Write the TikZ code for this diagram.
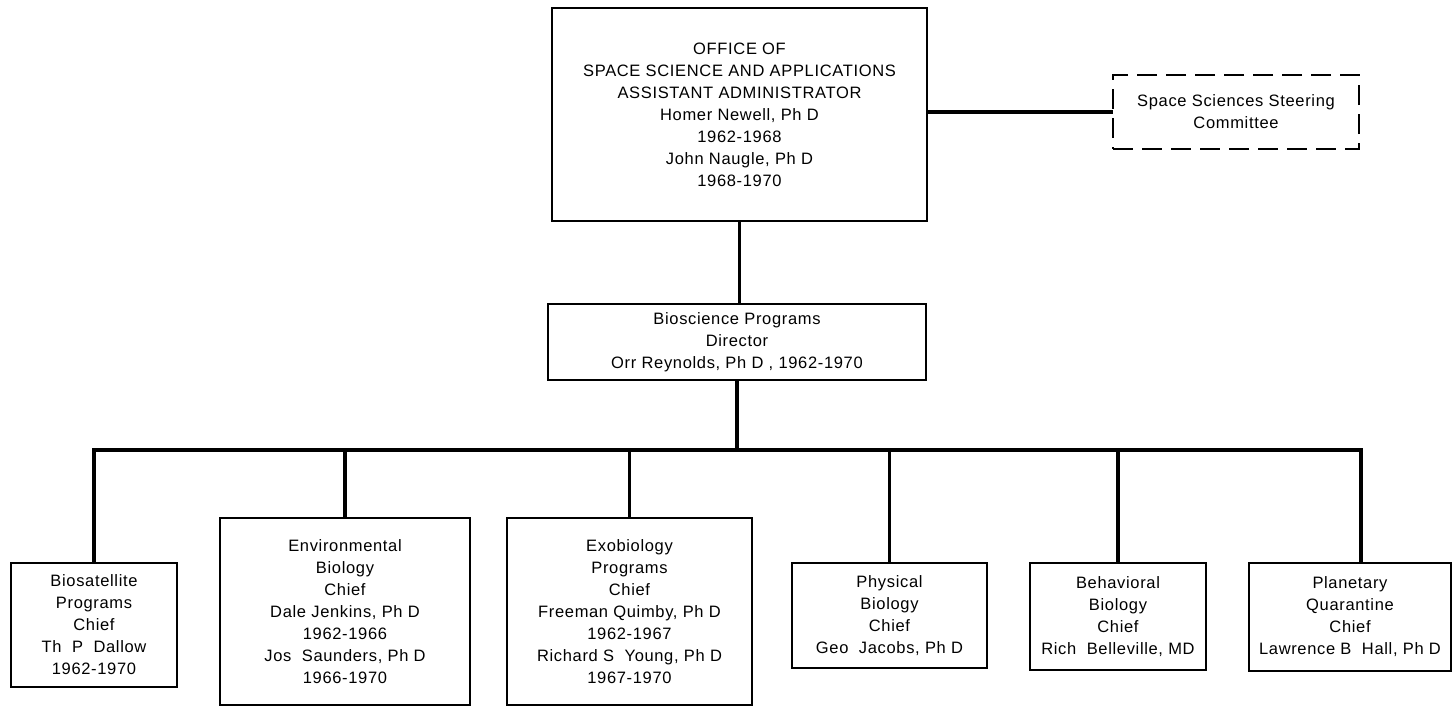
\documentclass[tikz,border=0pt]{standalone}
\usepackage{fontspec}
\setmainfont{Liberation Sans}[LetterSpace=4.0]
\usetikzlibrary{
    positioning,
    calc
}

\begin{document}
\begin{tikzpicture}[x=1pt, y=-1pt,
        unit/.style={draw, line width=2.4pt, rectangle, inner sep=0pt, align=center,
            font=\fontsize{16.5}{22}\selectfont},
        link/.style={line width=3.2pt, line cap=rect}]
        \useasboundingbox (0,0) rectangle (1453,707);
        % Office and committee
        \node[unit, minimum width=375pt, minimum height=213pt] (office) at (739.5,114.5) {
            OFFICE OF\\
            SPACE SCIENCE AND APPLICATIONS\\
            ASSISTANT ADMINISTRATOR\\
            Homer Newell, Ph D\\
            1962-1968\\
            John Naugle, Ph D\\
            1968-1970
        };
        \node[unit, dashed, dash pattern=on 20pt off 9pt, minimum width=246pt, minimum height=74pt] (steering) at (1236,112) {
            Space Sciences Steering\\
            Committee
        };
        \node[unit, minimum width=378pt, minimum height=76pt] (bio) at (737,342) {
            Bioscience Programs\\
            Director\\
            Orr Reynolds, Ph D , 1962-1970
        };
        
        % Program chiefs
        \node[unit, minimum width=166pt, minimum height=124pt] (biosat) at (94,625) {
            Biosatellite\\ Programs\\ Chief\\ Th\ \ P\ \ Dallow\\ 1962-1970
        };
        \node[unit, minimum width=250pt, minimum height=187pt] (enviro) at (345,611.5) {
            Environmental\\ Biology\\ Chief\\ Dale Jenkins, Ph D\\ 1962-1966\\
            Jos\ \ Saunders, Ph D\\ 1966-1970
        };
        \node[unit, minimum width=245pt, minimum height=187pt] (exo) at (629.5,611.5) {
            Exobiology\\ Programs\\ Chief\\ Freeman Quimby, Ph D\\ 1962-1967\\
            Richard S\ \ Young, Ph D\\ 1967-1970
        };
        \node[unit, minimum width=195pt, minimum height=105pt] (phys) at (889.5,615.5) {
            Physical\\ Biology\\ Chief\\ Geo\ \ Jacobs, Ph D
        };
        \node[unit, minimum width=176pt, minimum height=107pt] (behav) at (1118,616.5) {
            Behavioral\\ Biology\\ Chief\\ Rich\ \ Belleville, MD
        };
        \node[unit, minimum width=202pt, minimum height=108pt] (plan) at (1350,617) {
            Planetary\\ Quarantine\\ Chief\\ Lawrence B\ \ Hall, Ph D
        };
        
        % Connectors
        \coordinate (bus) at (741,450);
        \coordinate (plandrop) at ($(plan.north)+(11,0)$);
        \draw[link] (steering.west -| office.east) -- (steering.west);
        \draw[link] (office.south) -- (office.south |- bio.north);
        \draw[link] (bio.south) -- (bio.south |- bus);
        \draw[link] (bus -| biosat.north) -- (bus -| plandrop);
        \foreach \n in {biosat, enviro, exo, phys, behav}
            \draw[link] (bus -| \n.north) -- (\n.north);
        \draw[link] (bus -| plandrop) -- (plandrop);
    \end{tikzpicture}
\end{document}
